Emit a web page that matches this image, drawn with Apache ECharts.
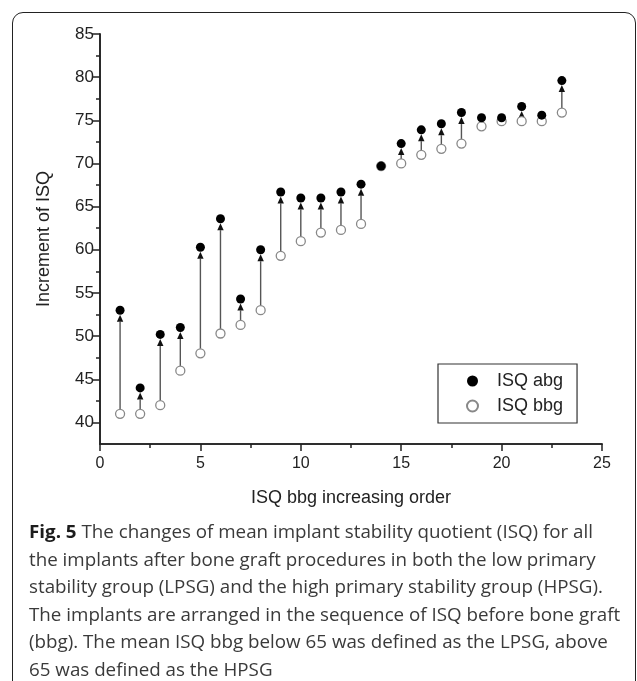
<!DOCTYPE html>
<html>
<head>
    <meta charset="utf-8">
    <script src="https://cdn.jsdelivr.net/npm/echarts@6/dist/echarts.min.js"></script>
    <style>
    html, body { margin: 0; padding: 0; background: #fff; }
    #frame {
      position: absolute; left: 12px; top: 12px;
      width: 622px; height: 720px;
      border: 1.5px solid #222; border-radius: 11px;
    }
    #main {
      position: absolute; left: 0; top: 0;
      width: 637px; height: 681px;
    }
    #cap {
      position: absolute; left: 29px; top: 518px;
      font-family: "Open Sans", "Noto Sans", sans-serif;
      font-size: 18px; line-height: 27.6px; color: #3a3a3a;
      transform-origin: 0 0; white-space: nowrap;
    }
    #cap span { display: inline-block; }
    #cap b { color: #1c1c1c; }
    </style>
    <title>Fig. 5</title>
</head>
<body>
    <div id="frame"></div>
    <div id="main"></div>
    <div id="cap">
      <span id="l1"><b>Fig. 5</b> The changes of mean implant stability quotient (ISQ) for all</span><br>
      <span>the implants after bone graft procedures in both the low primary</span><br>
      <span>stability group (LPSG) and the high primary stability group (HPSG).</span><br>
      <span>The implants are arranged in the sequence of ISQ before bone graft</span><br>
      <span>(bbg). The mean ISQ bbg below 65 was defined as the LPSG, above</span><br>
      <span>65 was defined as the HPSG</span>
    </div>
    <script type="text/javascript">

        // implants in bbg order
        var order = [1, 2, 3, 4, 5, 6, 7, 8, 9, 10, 11, 12, 13, 14, 15, 16, 17, 18, 19, 20, 21, 22, 23];
        // ISQ after bone graft
        var isqAbg = [53.0, 44.0, 50.2, 51.0, 60.3, 63.6, 54.3, 60.0, 66.7, 66.0, 66.0, 66.7,
                      67.6, 69.7, 72.3, 73.9, 74.6, 75.9, 75.3, 75.3, 76.6, 75.6, 79.6];
        // ISQ before bone graft
        var isqBbg = [41.0, 41.0, 42.0, 46.0, 48.0, 50.3, 51.3, 53.0, 59.3, 61.0, 62.0, 62.3,
                      63.0, 69.7, 70.0, 71.0, 71.7, 72.3, 74.3, 74.9, 74.9, 74.9, 75.9];
        var yMajor = [40, 45, 50, 55, 60, 65, 70, 75, 80, 85];
        var yMinor = [42.5, 47.5, 52.5, 57.5, 62.5, 67.5, 72.5, 77.5, 82.5];
        var xMajor = [0, 5, 10, 15, 20, 25];
        var xMinor = [2.5, 7.5, 12.5, 17.5, 22.5];

        var abgData = order.map(function (x, i) { return [x, isqAbg[i]]; });
        var bbgData = order.map(function (x, i) { return [x, isqBbg[i]]; });
        var arrowData = order.map(function (x, i) { return [x, isqBbg[i], isqAbg[i]]; });

        var ink = '#222';
        var font = 'Liberation Sans, Arial, sans-serif';

        var axisBase = {
            type: 'value',
            splitLine: { show: false },
            axisLine: { show: true, lineStyle: { color: ink, width: 1.6 } }
        };

        var myChart = echarts.init(document.getElementById('main'));

        var option = {
            animation: false,
            textStyle: { fontFamily: font, color: ink },
            grid: { left: 100, right: 35, top: 34, bottom: 237 },
            legend: {
                orient: 'vertical',
                left: 438, top: 364,
                padding: [8, 14, 8, 28],
                itemGap: 7,
                itemWidth: 11, itemHeight: 11,
                borderColor: '#333', borderWidth: 1.2,
                textStyle: { fontSize: 18, fontFamily: font, color: ink, padding: [0, 0, 0, 14] },
                data: [
                    { name: 'ISQ abg', icon: 'circle' },
                    { name: 'ISQ bbg', icon: 'circle' }
                ]
            },
            xAxis: [
                Object.assign({}, axisBase, {
                    min: 0, max: 25, position: 'bottom',
                    name: 'ISQ bbg increasing order',
                    nameLocation: 'middle', nameGap: 45,
                    nameTextStyle: { fontSize: 18, fontFamily: font, color: ink },
                    axisTick: { show: true, length: 7, lineStyle: { color: ink, width: 1.5 }, customValues: xMajor },
                    axisLabel: { fontSize: 16, fontFamily: font, color: ink, margin: 12, customValues: xMajor }
                }),
                Object.assign({}, axisBase, {
                    min: 0, max: 25, position: 'bottom', offset: 0,
                    axisTick: { show: true, length: 4, lineStyle: { color: ink, width: 1.5 }, customValues: xMinor },
                    axisLabel: { show: false }
                })
            ],
            yAxis: [
                Object.assign({}, axisBase, {
                    min: 37.5, max: 85, position: 'left',
                    name: 'Increment of ISQ',
                    nameLocation: 'middle', nameGap: 47,
                    nameTextStyle: { fontSize: 18, fontFamily: font, color: ink },
                    axisTick: { show: true, length: 8, lineStyle: { color: ink, width: 1.5 }, customValues: yMajor },
                    axisLabel: { fontSize: 17, fontFamily: font, color: ink, margin: 6, customValues: yMajor }
                }),
                Object.assign({}, axisBase, {
                    min: 37.5, max: 85, position: 'left', offset: 0,
                    axisTick: { show: true, length: 4, lineStyle: { color: ink, width: 1.5 }, customValues: yMinor },
                    axisLabel: { show: false }
                })
            ],
            series: [
                {
                    name: 'change',
                    type: 'custom',
                    silent: true,
                    z: 1,
                    encode: { x: 0, y: [1, 2] },
                    renderItem: function (params, api) {
                        var x = api.value(0);
                        var p0 = api.coord([x, api.value(1)]);
                        var p1 = api.coord([x, api.value(2)]);
                        if (p0[1] - p1[1] < 10) return;
                        var r = 4.5, ah = 7, aw = 3.2;
                        var tipY = p1[1] + r;
                        var baseY = tipY + ah;
                        return {
                            type: 'group',
                            children: [
                                { type: 'line', shape: { x1: p0[0], y1: p0[1] - r, x2: p0[0], y2: baseY },
                                  style: { stroke: '#555', lineWidth: 1.4 } },
                                { type: 'polygon', shape: { points: [[p1[0], tipY], [p1[0] - aw, baseY], [p1[0] + aw, baseY]] },
                                  style: { fill: '#111' } }
                            ]
                        };
                    },
                    data: arrowData
                },
                {
                    name: 'ISQ bbg',
                    type: 'scatter',
                    z: 2,
                    symbol: 'circle',
                    symbolSize: 9,
                    itemStyle: { color: '#fff', borderColor: '#888', borderWidth: 1.3, opacity: 1 },
                    data: bbgData
                },
                {
                    name: 'ISQ abg',
                    type: 'scatter',
                    z: 3,
                    symbol: 'circle',
                    symbolSize: 9,
                    itemStyle: { color: '#000', opacity: 1 },
                    data: abgData
                }
            ]
        };
        myChart.setOption(option);

        // squeeze caption to the width of the original typeset lines
        var w = document.getElementById('l1').getBoundingClientRect().width;
        document.getElementById('cap').style.transform = 'scaleX(' + (564 / w) + ')';

    </script>
</body>
</html>
